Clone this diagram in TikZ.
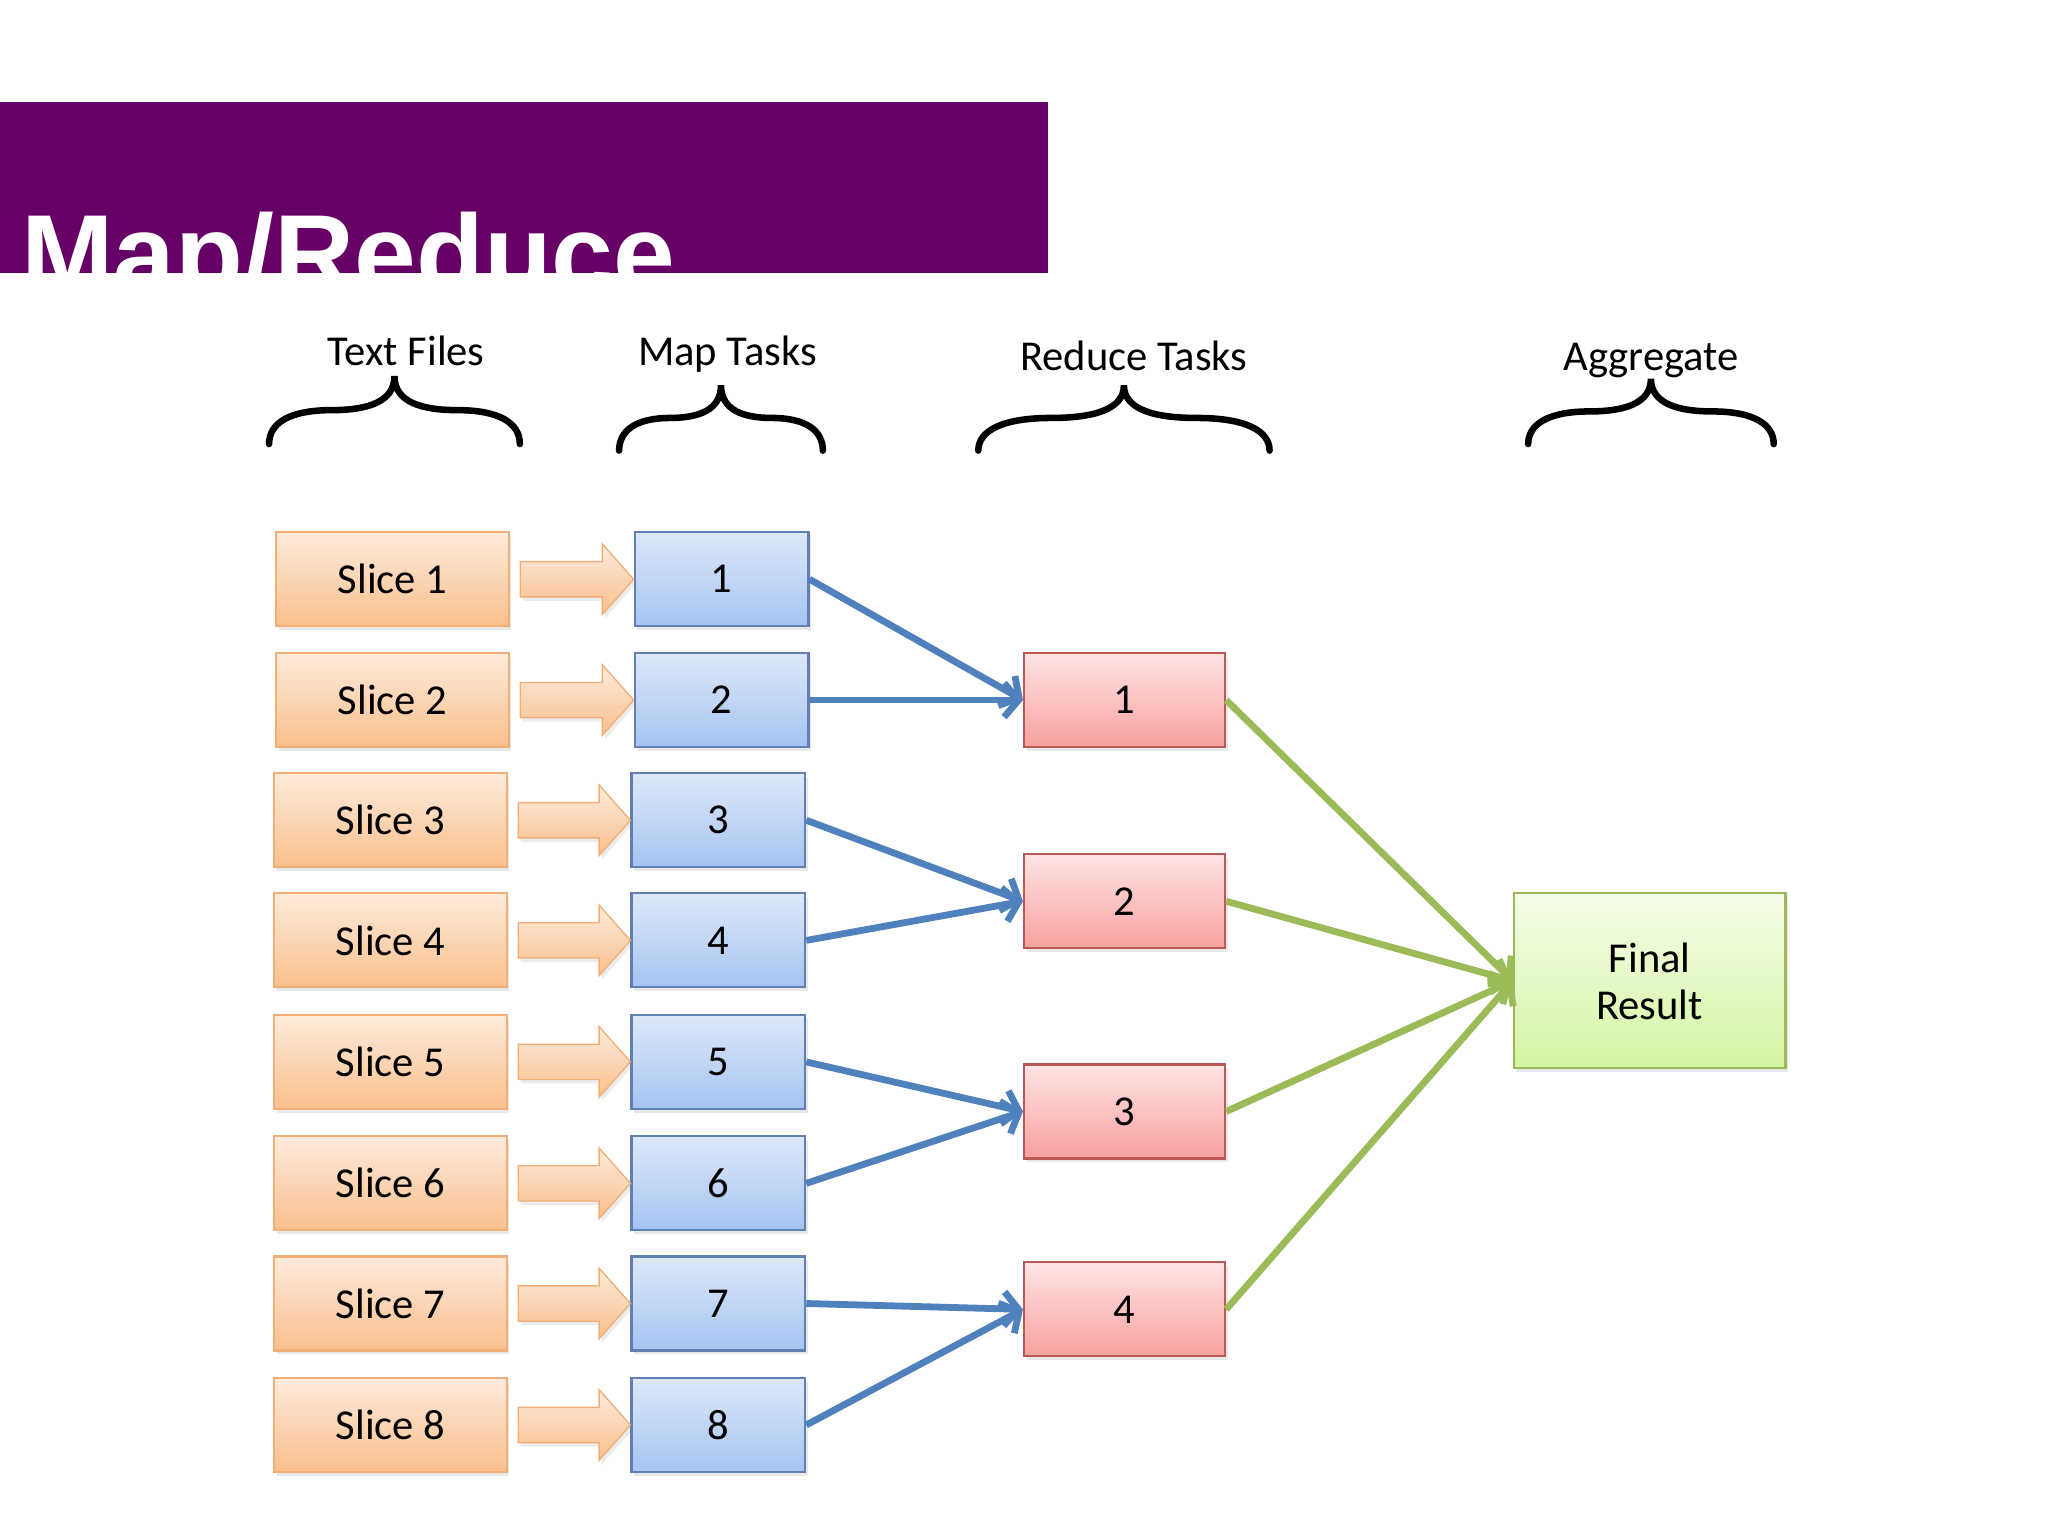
\documentclass[tikz,border=0pt]{standalone}
\usepackage{fontspec}
\setmainfont{Carlito}
\newfontfamily\titlefont{Liberation Sans}
\usetikzlibrary{arrows.meta,calc,shadows}
\definecolor{purp}{HTML}{660066}
\definecolor{sliceT}{HTML}{FDEBDC}
\definecolor{sliceB}{HTML}{FABF8C}
\definecolor{sliceD}{HTML}{F2AE76}
\definecolor{mapT}{HTML}{DDE8F8}
\definecolor{mapB}{HTML}{A6C3F2}
\definecolor{mapD}{HTML}{5F80B0}
\definecolor{redT}{HTML}{FFE4E4}
\definecolor{redB}{HTML}{F8A0A0}
\definecolor{redD}{HTML}{BC5855}
\definecolor{finT}{HTML}{F4FCE8}
\definecolor{finB}{HTML}{D5F5A2}
\definecolor{finD}{HTML}{98B85A}
\definecolor{blueln}{HTML}{4F81BD}
\definecolor{greenln}{HTML}{9BBB59}
\newcommand\mybrace[4]{%
  \pgfmathsetmacro\bxa{#1}%
  \pgfmathsetmacro\bxb{#2}%
  \pgfmathsetmacro\bxm{(#1+#2)/2}%
  \pgfmathsetmacro\byh{(#3+#4)/2}%
  \pgfmathsetmacro\bw{(#2-#1)/2}%
  \draw[bracestyle] (\bxa,#4)
    .. controls (\bxa,\byh+10) and (\bxa+0.16*\bw,\byh) .. (\bxa+0.5*\bw,\byh)
    .. controls (\bxm-0.22*\bw,\byh) and (\bxm,\byh-6) .. (\bxm,#3)
    .. controls (\bxm,\byh-6) and (\bxm+0.22*\bw,\byh) .. (\bxb-0.5*\bw,\byh)
    .. controls (\bxb-0.16*\bw,\byh) and (\bxb,\byh+10) .. (\bxb,#4);
}
\begin{document}
\begin{tikzpicture}[x=0.5pt,y=-0.5pt,
  bracestyle/.style={line width=2.5pt,line cap=round,black},
  hdr/.style={anchor=base,inner sep=0,font=\fontsize{16.3}{20}\selectfont},
  box/.style={draw,line width=0.8pt,inner sep=0,minimum height=36pt,
    font=\fontsize{16.3}{18}\selectfont,
    drop shadow={shadow xshift=1pt,shadow yshift=-1.5pt,opacity=0.18}},
  slicebox/.style={box,minimum width=89pt,top color=sliceT,bottom color=sliceB,draw=sliceD},
  mapbox/.style={box,minimum width=66.5pt,top color=mapT,bottom color=mapB,draw=mapD},
  redbox/.style={box,minimum width=77pt,top color=redT,bottom color=redB,draw=redD},
  finbox/.style={box,minimum width=104pt,minimum height=67pt,align=center,
    top color=finT,bottom color=finB,draw=finD},
  blockarr/.style={top color=sliceT,bottom color=sliceB,draw=sliceD,line width=0.5pt,
    drop shadow={shadow xshift=1pt,shadow yshift=-1.5pt,opacity=0.15}},
  bluearr/.style={draw=blueln,line width=2.6pt,-{Straight Barb[length=5.5pt,width=13pt]}},
  greenarr/.style={draw=greenln,line width=2.6pt,-{Straight Barb[length=5.5pt,width=13pt]}}
]
\useasboundingbox (0,0) rectangle (1568,1176);
\fill[white] (0,0) rectangle (1568,1176);
% title band
\fill[purp] (0,78) rectangle (802,209);
\begin{scope}
  \clip (0,78) rectangle (802,209);
  \node[anchor=base west,inner sep=0,text=white,
    font=\titlefont\bfseries\fontsize{42.5}{42}\selectfont] (title) at (16,224) {Map/Reduce};
\end{scope}
% headers
\node[hdr] (h1) at (311,280) {Text Files};
\node[hdr] (h2) at (557,280) {Map Tasks};
\node[hdr] (h3) at (868,284) {Reduce Tasks};
\node[hdr] (h4) at (1264,284) {Aggregate};
% braces
\mybrace{206}{398}{288}{340}
\mybrace{474}{630}{295}{345}
\mybrace{749}{972}{295}{345}
\mybrace{1170}{1358}{290}{340}
% slices and map tasks
\foreach \i/\y/\sx/\mx in {1/443.5/300.5/552.5,2/536/300.5/552.5,3/628/299/550,4/720/299/550,
  5/813/299/550,6/906/299/550,7/998/299/550,8/1091/299/550}{
  \node[slicebox] (s\i) at (\sx,\y) {Slice \i};
  \node[mapbox] (m\i) at (\mx,\y) {\i};
}
% block arrows
\foreach \i in {1,...,8}{
  \draw[blockarr] ($(s\i.east)+(8,-13.5)$) -- ($(m\i.west)+(-24,-13.5)$)
    -- ($(m\i.west)+(-24,-27)$) -- (m\i.west) -- ($(m\i.west)+(-24,27)$)
    -- ($(m\i.west)+(-24,13.5)$) -- ($(s\i.east)+(8,13.5)$) -- cycle;
}
% reduce tasks
\node[redbox] (r1) at (861,536) {1};
\node[redbox] (r2) at (861,690) {2};
\node[redbox] (r3) at (861,851) {3};
\node[redbox] (r4) at (861,1002.5) {4};
% final
\node[finbox] (fr) at (1263,751) {Final\\Result};
% blue connectors
\draw[bluearr] (m1.east) -- (r1.west);
\draw[bluearr] (m2.east) -- (r1.west);
\draw[bluearr] (m3.east) -- (r2.west);
\draw[bluearr] (m4.east) -- (r2.west);
\draw[bluearr] (m5.east) -- (r3.west);
\draw[bluearr] (m6.east) -- (r3.west);
\draw[bluearr] (m7.east) -- (r4.west);
\draw[bluearr] (m8.east) -- (r4.west);
% green connectors
\draw[greenarr] (r1.east) -- (fr.west);
\draw[greenarr] (r2.east) -- (fr.west);
\draw[greenarr] (r3.east) -- (fr.west);
\draw[greenarr] (r4.east) -- (fr.west);
\end{tikzpicture}
\end{document}
